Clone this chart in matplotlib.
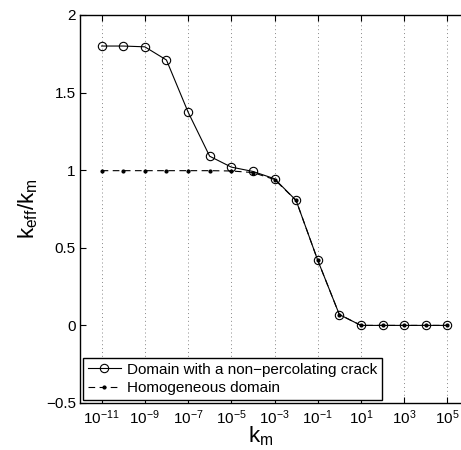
import numpy as np
import matplotlib
matplotlib.use('Agg')
import matplotlib.pyplot as plt
from matplotlib.ticker import FixedLocator, NullLocator

plt.rcParams['font.family'] = ['Liberation Sans', 'DejaVu Sans']
plt.rcParams['mathtext.fontset'] = 'custom'
plt.rcParams['mathtext.rm'] = 'Liberation Sans'
plt.rcParams['mathtext.it'] = 'Liberation Sans'
plt.rcParams['mathtext.default'] = 'regular'

# data
km_exp = [-11, -10, -9, -8, -7, -6, -5, -4, -3, -2, -1, 0, 1, 2, 3, 4, 5]
crack = [1.80, 1.80, 1.795, 1.71, 1.375, 1.09, 1.02, 0.992, 0.945, 0.805,
         0.42, 0.07, 0.0, 0.0, 0.0, 0.0, 0.0]
homog = [0.997, 0.997, 0.997, 0.997, 0.997, 0.997, 0.995, 0.985, 0.94, 0.805,
         0.42, 0.07, 0.0, 0.0, 0.0, 0.0, 0.0]
xtick_exp = [-11, -9, -7, -5, -3, -1, 1, 3, 5]
yticks = [-0.5, 0, 0.5, 1, 1.5, 2]
ytick_labels = ['\u22120.5', '0', '0.5', '1', '1.5', '2']

km = [10.0 ** e for e in km_exp]

fig = plt.figure(figsize=(4.61, 4.50), dpi=100)
ax = fig.add_axes([80 / 461, 47 / 450, 389 / 461, 388 / 450])

ax.plot(km, crack, '-', color='k', lw=0.8, marker='o', ms=6,
        mfc='none', mec='k', mew=0.8,
        label='Domain with a non\u2212percolating crack')
ax.plot(km, homog, '--', color='k', lw=0.8, marker='.', ms=4,
        dashes=(6, 4), label='Homogeneous domain')

ax.set_xscale('log')
ax.set_xlim(1e-12, 1e6)
ax.set_ylim(-0.5, 2)

ax.xaxis.set_major_locator(FixedLocator([10.0 ** e for e in xtick_exp]))
ax.xaxis.set_minor_locator(NullLocator())
ax.set_xticklabels(['$10^{%d}$' % e for e in xtick_exp])
ax.set_yticks(yticks)
ax.set_yticklabels(ytick_labels)

ax.tick_params(direction='in', top=True, right=True, labelsize=11,
               length=4, width=0.8)
ax.tick_params(axis='y', pad=3)
ax.tick_params(axis='x', pad=4)
ax.grid(True, axis='x', linestyle=(0, (1, 3)), color='#888888', lw=0.7)
for s in ax.spines.values():
    s.set_linewidth(1.0)

ax.set_xlabel('$k_m$', fontsize=16)
ax.xaxis.set_label_coords(0.465, -0.055)
ax.set_ylabel('$k_{eff}/k_m$', fontsize=16, labelpad=4)

leg = ax.legend(loc='lower left', fontsize=11, handlelength=2.2,
                borderaxespad=0.2, fancybox=False, framealpha=1,
                edgecolor='k', borderpad=0.3, labelspacing=0.3,
                handletextpad=0.4)
leg.get_frame().set_linewidth(1.0)

fig.savefig('out.png', dpi=100)
